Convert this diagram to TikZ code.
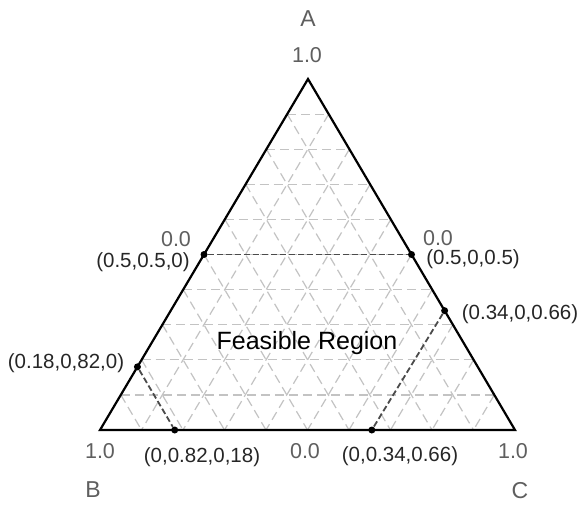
\documentclass[tikz,border=0pt]{standalone}
\usepackage{fontspec}
\setmainfont{Liberation Sans}
\usetikzlibrary{calc}
\definecolor{tickgray}{RGB}{95,95,95}
\definecolor{gridgray}{RGB}{195,195,195}
\definecolor{cutgray}{RGB}{75,75,75}
\tikzset{
  gridline/.style={draw=gridgray, line width=1.2pt, dash pattern=on 9pt off 5pt},
  cutline/.style={draw=cutgray, line width=1.8pt, dash pattern=on 6pt off 3pt},
  side/.style={draw=black, line width=2.2pt, line join=miter},
  dot/.style={circle, fill=black, inner sep=0pt, minimum size=7pt},
  coordlbl/.style={text=black!85, font=\fontsize{20.5}{22}\selectfont, inner sep=0pt},
  ticklbl/.style={text=tickgray, font=\fontsize{21.5}{23}\selectfont, inner sep=0pt},
  vertexlbl/.style={text=tickgray, font=\fontsize{23}{25}\selectfont, inner sep=0pt},
  regionlbl/.style={text=black, font=\fontsize{25}{27}\selectfont, inner sep=0pt}
}
\begin{document}
\begin{tikzpicture}[x=1pt,y=-1pt]
\useasboundingbox (0,0) rectangle (580,504);
\fill[white] (0,0) rectangle (580,504);
\coordinate (A) at (308,79);
\coordinate (B) at (100,430);
\coordinate (C) at (515,430);
% grid
\foreach \t in {0.1,0.2,...,0.91} {
  \draw[gridline] ($(B)!\t!(A)$) -- ($(C)!\t!(A)$);
  \draw[gridline] ($(A)!\t!(B)$) -- ($(C)!\t!(B)$);
  \draw[gridline] ($(A)!\t!(C)$) -- ($(B)!\t!(C)$);
}
% triangle
\draw[side] (A) -- (B) -- (C) -- cycle;
% points
\node[dot] (pab) at ($(A)!0.5!(B)$) {};
\node[dot] (pac) at ($(A)!0.5!(C)$) {};
\node[dot] (pac2) at ($(A)!0.66!(C)$) {};
\node[dot] (pab2) at ($(A)!0.82!(B)$) {};
\node[dot] (pbc1) at ($(B)!0.18!(C)$) {};
\node[dot] (pbc2) at ($(B)!0.655!(C)$) {};
% cut lines
\draw[cutline] (pab) -- (pac);
\draw[cutline] (pab2) -- (pbc1);
\draw[cutline] (pac2) -- (pbc2);
% labels
\node[vertexlbl] (lA) at (308,19) {A};
\node[vertexlbl] (lB) at (93,490) {B};
\node[vertexlbl] (lC) at (520,491) {C};
\node[ticklbl] (tA) at (307,55) {1.0};
\node[ticklbl] (tB) at (100,451) {1.0};
\node[ticklbl] (tC) at (513,451) {1.0};
\node[ticklbl] (z1) at (176,239) {0.0};
\node[ticklbl] (z2) at (438,238) {0.0};
\node[ticklbl] (z3) at (305,451) {0.0};
\node[coordlbl] (c1) at (143,262) {(0.5,0.5,0)};
\node[coordlbl] (c2) at (473,259) {(0.5,0,0.5)};
\node[coordlbl] (c3) at (520,314) {(0.34,0,0.66)};
\node[coordlbl] (c4) at (66,363) {(0.18,0,82,0)};
\node[coordlbl] (c5) at (202,457) {(0,0.82,0,18)};
\node[coordlbl] (c6) at (400,456) {(0,0.34,0.66)};
\node[regionlbl] (reg) at (307,343) {Feasible Region};
\end{tikzpicture}
\end{document}
